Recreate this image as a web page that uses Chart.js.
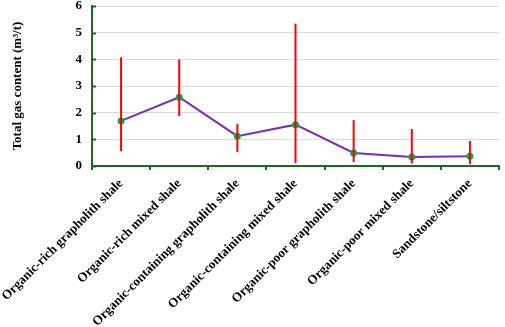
<!DOCTYPE html>
<html>
<head>
<meta charset="utf-8">
<script src="https://cdn.jsdelivr.net/npm/chart.js@4/dist/chart.umd.min.js"></script>
<style>
  html, body { margin: 0; padding: 0; background: #fff; }
  #wrap { width: 505px; height: 327px; }
</style>
</head>
<body>
<div id="wrap"><canvas id="gasChart" width="505" height="327"></canvas></div>
<script>
// rock types along the x axis
const categories = [
  'Organic-rich grapholith shale',
  'Organic-rich mixed shale',
  'Organic-containing grapholith shale',
  'Organic-containing mixed shale',
  'Organic-poor grapholith shale',
  'Organic-poor mixed shale',
  'Sandstone/siltstone'
];

// mean total gas content (m3/t)
const meanGas = [1.69, 2.58, 1.12, 1.55, 0.49, 0.34, 0.37];
// range of the red bars
const maxGas = [4.08, 4.00, 1.57, 5.34, 1.72, 1.39, 0.94];
const minGas = [0.56, 1.87, 0.52, 0.11, 0.15, 0.09, 0.07];

const yTicks = [0, 1, 2, 3, 4, 5, 6];

const axisGreen = '#1e6b1e';
const serifBold = { family: "'Liberation Serif', 'Times New Roman', serif", size: 13, weight: 'bold' };

// draws the min-max bars on top of the points, plus the small inner y ticks
const rangeBars = {
  id: 'rangeBars',
  afterDatasetsDraw(chart) {
    const ctx = chart.ctx;
    const xScale = chart.scales.x;
    const yScale = chart.scales.y;
    ctx.save();
    ctx.strokeStyle = '#ff0000';
    ctx.lineWidth = 2;
    categories.forEach((c, i) => {
      const x = xScale.getPixelForValue(i);
      ctx.beginPath();
      ctx.moveTo(x, yScale.getPixelForValue(maxGas[i]));
      ctx.lineTo(x, yScale.getPixelForValue(minGas[i]));
      ctx.stroke();
    });
    // inner tick marks on the y axis
    ctx.strokeStyle = axisGreen;
    ctx.lineWidth = 2;
    yTicks.forEach(v => {
      const y = Math.round(yScale.getPixelForValue(v)) + 0.5;
      ctx.beginPath();
      ctx.moveTo(chart.chartArea.left, y);
      ctx.lineTo(chart.chartArea.left + 4, y);
      ctx.stroke();
    });
    ctx.restore();
  }
};

const ctx = document.getElementById('gasChart').getContext('2d');
const chart = new Chart(ctx, {
  type: 'line',
  data: {
    labels: categories,
    datasets: [{
      label: 'Total gas content',
      data: meanGas,
      borderColor: '#7b2fb0',
      borderWidth: 2,
      pointBackgroundColor: '#00b050',
      pointBorderColor: '#00b050',
      pointRadius: 2.5,
      fill: false,
      tension: 0
    }]
  },
  options: {
    responsive: false,
    animation: false,
    layout: { padding: 0 },
    plugins: {
      legend: { display: false },
      tooltip: { enabled: false }
    },
    scales: {
      x: {
        offset: true,
        grid: {
          offset: true,
          drawOnChartArea: false,
          drawTicks: true,
          tickLength: 4,
          color: axisGreen,
          lineWidth: 2
        },
        border: { color: axisGreen, width: 2 },
        ticks: {
          autoSkip: false,
          minRotation: 45,
          maxRotation: 45,
          color: '#000',
          font: serifBold,
          padding: 6
        },
        afterFit(scale) {
          scale.height = 161;
          scale.paddingLeft = 0;
          scale.paddingRight = 0;
        }
      },
      y: {
        min: 0,
        max: 6,
        afterBuildTicks(scale) {
          scale.ticks = yTicks.map(v => ({ value: v }));
        },
        grid: {
          color: '#d9d9d9',
          lineWidth: 1,
          drawTicks: false
        },
        border: { color: axisGreen, width: 2 },
        ticks: {
          color: '#000',
          font: serifBold,
          padding: 10
        },
        title: {
          display: true,
          text: 'Total gas content (m³/t)',
          color: '#000',
          font: serifBold,
          padding: { top: 10, bottom: 0 }
        },
        afterFit(scale) {
          scale.width = 92;
          scale.paddingTop = 5;
          scale.paddingBottom = 0;
        }
      }
    }
  },
  plugins: [rangeBars]
});
</script>
</body>
</html>
